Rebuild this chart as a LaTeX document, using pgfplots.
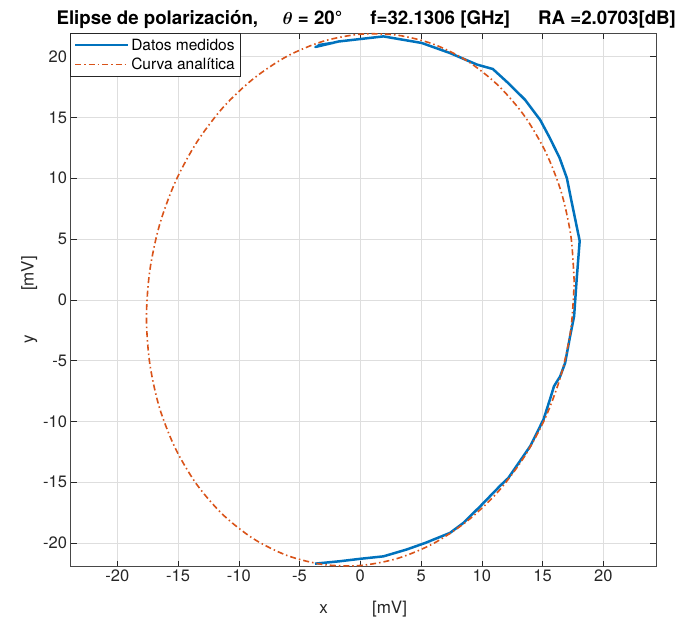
\documentclass[border=0pt]{standalone}
\usepackage{pgfplots}
\pgfplotsset{compat=1.18}
\usepackage{fontspec}
\setmainfont{TeX Gyre Heros}
\definecolor{mblue}{RGB}{0,114,189}
\definecolor{mred}{RGB}{217,83,25}
\definecolor{axgray}{RGB}{38,38,38}
\begin{document}
\begin{tikzpicture}
\useasboundingbox (0pt,0pt) rectangle (681pt,626pt);
\begin{axis}[
  at={(70.5pt,59.3pt)}, anchor=south west, scale only axis,
  width=585.5pt, height=533.7pt,
  xmin=-23.85, xmax=24.33, ymin=-21.95, ymax=21.95,
  xtick={-20,-15,...,20}, ytick={-20,-15,...,20},
  tick align=inside, major tick length=6pt,
  tick style={axgray, line width=0.6pt},
  axis line style={axgray!85, line width=0.8pt},
  grid=major, grid style={color=black!13, line width=0.6pt},
  /pgf/number format/assume math mode=true,
  ticklabel style={font=\fontsize{16.5}{19}\selectfont, text=axgray},
  xlabel={x\hspace{2.6em}[mV]},
  ylabel={y\hspace{2.6em}[mV]},
  label style={font=\fontsize{17}{20}\selectfont, text=axgray},
  xlabel style={yshift=-12pt},
  ylabel style={yshift=-1pt},
  title={\bfseries Elipse de polarización,\hspace{1.3em}{\boldmath$\theta$} = 20°\hspace{1.5em}f=32.1306 [GHz]\hspace{1.5em}RA =2.0703[dB]},
  title style={font=\fontsize{18.7}{22}\selectfont, yshift=-5pt, xshift=3pt},
  legend style={at={(0,1)}, anchor=north west, draw=axgray, line width=0.6pt,
    font=\fontsize{15.5}{18}\selectfont, inner xsep=3pt, inner ysep=3.5pt, row sep=2.5pt,
    legend cell align=left},
  legend image code/.code={\draw[#1] (0pt,0pt) -- (53pt,0pt);},
]
\addplot[mblue, line width=2.5pt, line join=round] coordinates {
(-3.73,-21.7) (-1.67,-21.5) (0,-21.3) (1.9,-21.1) (3.8,-20.54) (5.33,-20.0)
(7.38,-19.17) (8.48,-18.35) (9.85,-17.0) (11.5,-15.3) (12.18,-14.65)
(13.97,-12.05) (15.07,-9.85) (15.6,-8.2) (15.94,-7.1) (16.44,-6.3)
(16.85,-5.2) (17.26,-3.0) (17.59,-1.36) (17.8,1.66) (18.05,4.85)
(17.4,8.0) (17.0,10.0) (16.4,11.67) (15.6,13.3) (14.8,14.8) (13.55,16.46)
(12.2,17.8) (10.9,18.99) (9.6,19.35) (7.38,20.3) (5.05,21.13) (1.9,21.67)
(-1.8,21.25) (-3.7,20.8) (-2.2,21.15) (-3.5,20.95)
};
\addlegendentry{Datos medidos}
\addplot[mred, line width=1.6pt, smooth, dash pattern=on 6pt off 3pt on 1.5pt off 3pt] coordinates {
(17.6,1.45) (17.33,5.22) (16.54,8.84) (15.24,12.18) (13.48,15.16) (11.31,17.67)
(8.80,19.65) (6.02,21.03) (3.06,21.77) (0,21.85) (-3.06,21.27) (-6.02,20.04)
(-8.80,18.19) (-11.31,15.81) (-13.48,12.93) (-15.24,9.67) (-16.54,6.11)
(-17.33,2.37) (-17.6,-1.45) (-17.33,-5.22) (-16.54,-8.84) (-15.24,-12.18)
(-13.48,-15.16) (-11.31,-17.67) (-8.80,-19.65) (-6.02,-21.03) (-3.06,-21.77)
(0,-21.85) (3.06,-21.27) (6.02,-20.04) (8.80,-18.19) (11.31,-15.81)
(13.48,-12.93) (15.24,-9.67) (16.54,-6.11) (17.33,-2.37) (17.6,1.45)
};
\addlegendentry{Curva analítica}
\end{axis}
\end{tikzpicture}
\end{document}
